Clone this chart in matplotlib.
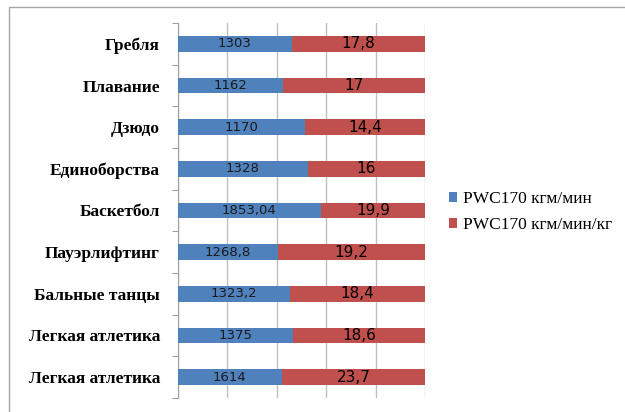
import matplotlib.pyplot as plt
from matplotlib.patches import Rectangle

# categories, top to bottom as in the picture
sports = ["Гребля", "Плавание", "Дзюдо", "Единоборства", "Баскетбол",
          "Пауэрлифтинг", "Бальные танцы", "Легкая атлетика", "Легкая атлетика"]
pwc_abs = ["1303", "1162", "1170", "1328", "1853,04", "1268,8", "1323,2", "1375", "1614"]
pwc_rel = ["17,8", "17", "14,4", "16", "19,9", "19,2", "18,4", "18,6", "23,7"]
# share of the bar taken by the blue segment (100% stacked)
blue_share = [0.46, 0.425, 0.513, 0.526, 0.578, 0.404, 0.452, 0.467, 0.42]
red_share = [1 - s for s in blue_share]

blue = "#4F81BD"
red = "#C0504D"

fig = plt.figure(figsize=(6.25, 4.12), dpi=100)
ax = fig.add_axes([178 / 625, 1 - 398 / 412, 247 / 625, 375 / 412])

y = list(range(len(sports)))
b1 = ax.barh(y, blue_share, height=0.38, color=blue, label="PWC170 кгм/мин", zorder=3)
b2 = ax.barh(y, red_share, left=blue_share, height=0.38, color=red,
             label="PWC170 кгм/мин/кг", zorder=3)

for i in y:
    ax.text(blue_share[i] / 2, i, pwc_abs[i], ha="center", va="center",
            fontsize=9.5, color="#1a1a1a", zorder=4)
    ax.text(blue_share[i] + red_share[i] / 2, i, pwc_rel[i], ha="center", va="center",
            fontsize=11, color="#000000", zorder=4)

ax.set_xlim(0, 1)
ax.set_ylim(len(sports) - 0.5, -0.5)
ax.set_xticks([0, 0.2, 0.4, 0.6, 0.8, 1.0])
ax.set_xticklabels([])
ax.tick_params(axis="x", length=0)
ax.grid(axis="x", color="#BFBFBF", linewidth=1, zorder=0)

# category ticks sit on the boundaries between bars
ax.set_yticks([i - 0.5 for i in range(len(sports) + 1)], minor=False)
ax.set_yticklabels([])
ax.tick_params(axis="y", which="major", length=4, color="#A0A0A0", direction="out")
ax.set_yticks(y, minor=True)
ax.set_yticklabels(sports, minor=True, fontsize=12.5, fontweight="bold",
                   family="Liberation Serif")
ax.tick_params(axis="y", which="minor", length=0, pad=13)

for s in ["top", "right", "bottom"]:
    ax.spines[s].set_visible(False)
ax.spines["left"].set_color("#A0A0A0")

fig.legend(handles=[b1, b2], loc="center left", bbox_to_anchor=(433 / 625, 1 - 212 / 412),
           frameon=False, prop={"family": "Liberation Serif", "size": 12.5},
           handlelength=0.5, handleheight=0.5, handletextpad=0.3, labelspacing=0.6)

# outer frame of the chart area
fig.patches.append(Rectangle((9 / 625, -0.1), 1.2, 1 - 7 / 412 + 0.1,
                             transform=fig.transFigure, fill=False,
                             edgecolor="#A6A6A6", linewidth=1.0))

fig.savefig("out.png", dpi=100)
